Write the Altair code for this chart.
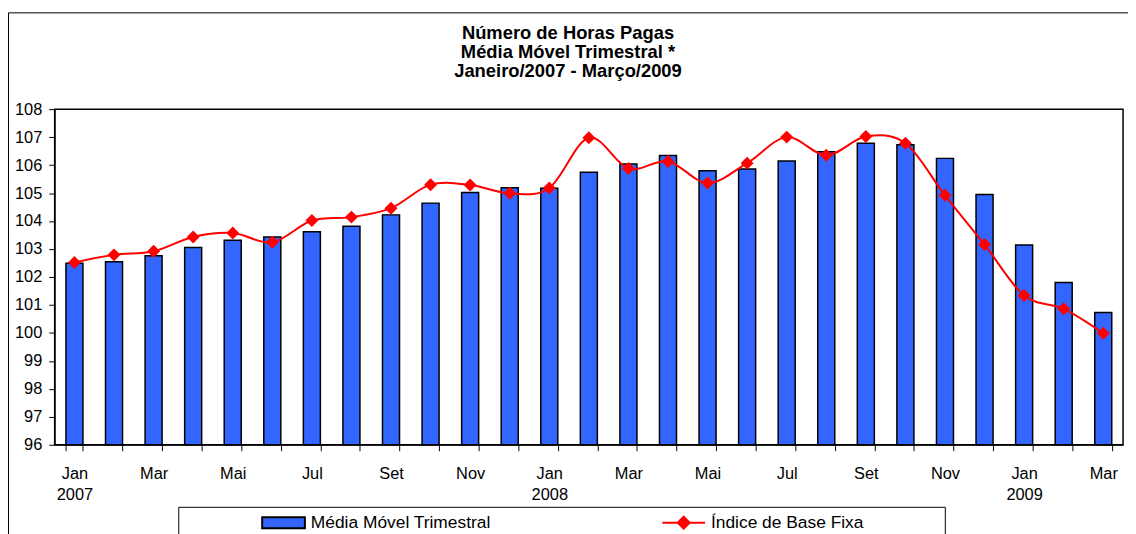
import json
import altair as alt
import pandas as pd

# ---------------- data ----------------
meses = ["Jan", "Fev", "Mar", "Abr", "Mai", "Jun", "Jul", "Ago", "Set", "Out", "Nov", "Dez"]
anos = [2007, 2008, 2009]
periodos = [f"{m}/{a}" for a in (2007, 2008) for m in meses] + ["Jan/2009", "Fev/2009", "Mar/2009"]

media_movel = [102.49, 102.54, 102.76, 103.05, 103.31, 103.43, 103.62, 103.81, 104.22,
               104.64, 105.02, 105.19, 105.17, 105.74, 106.04, 106.34, 105.80, 105.86,
               106.15, 106.48, 106.78, 106.73, 106.24, 104.95, 103.14, 101.80, 100.73]
indice_base_fixa = [102.52, 102.79, 102.92, 103.43, 103.57, 103.24, 104.02, 104.14, 104.46,
                    105.30, 105.29, 104.99, 105.18, 106.98, 105.88, 106.13, 105.36, 106.07,
                    107.00, 106.35, 107.02, 106.78, 104.92, 103.16, 101.34, 100.86, 99.99]

serie_barras = "Média Móvel Trimestral"
serie_linha = "Índice de Base Fixa"
valores_y = list(range(96, 109))

# tick labels: every other month, year under January
rotulos_x = []
for i, p in enumerate(periodos):
    m, a = p.split("/")
    if i % 2 == 1:
        rotulos_x.append("")
    elif m == "Jan":
        rotulos_x.append([m, a])
    else:
        rotulos_x.append(m)

linhas = []
for i, p in enumerate(periodos):
    linhas.append({"idx": i, "periodo": p, "serie": serie_barras, "valor": media_movel[i]})
for i, p in enumerate(periodos):
    linhas.append({"idx": i, "periodo": p, "serie": serie_linha, "valor": indice_base_fixa[i]})
df = pd.DataFrame(linhas)

# ---------------- styling ----------------
FONT = "Liberation Sans"
AZUL = "#3366FF"
VERMELHO = "#FF0000"
W, H = 1076, 338

label_expr = json.dumps(rotulos_x, ensure_ascii=False) + "[datum.value]"

x_enc = alt.X(
    "idx:O",
    scale=alt.Scale(paddingInner=0.57, paddingOuter=0.285),
    axis=alt.Axis(
        title=None, labelExpr=label_expr, labelAngle=0, tickBand="extent",
        tickSize=6, tickColor="black", domainColor="black", labelColor="black",
        labelFont=FONT, labelFontSize=16.5, labelPadding=15, labelLineHeight=21,
        grid=False, labelOverlap=False,
    ),
)
y_scale = alt.Scale(domain=[96, 108], nice=False, zero=False)
y_axis = alt.Axis(
    title=None, values=valores_y, tickSize=6, tickColor="black", domainColor="black",
    labelColor="black", labelFont=FONT, labelFontSize=16.5, labelPadding=7, grid=False,
)
y_enc = alt.Y("valor:Q", scale=y_scale, axis=y_axis)

BAR_PATH = "M-1,-0.256H1V0.256H-1Z"
LINE_PATH = "M-1,0H1M0,-0.28L0.28,0L0,0.28L-0.28,0Z"

leg_comum = dict(
    title=None, orient="none", direction="horizontal", symbolSize=1849, labelOffset=5,
    labelFont=FONT, labelFontSize=17.5, labelColor="black", padding=0, labelLimit=400,
    symbolStrokeWidth=2, symbolOpacity=1,
)

fill_barras = alt.Fill(
    "serie:N",
    scale=alt.Scale(domain=[serie_barras], range=[AZUL]),
    legend=alt.Legend(legendX=208, legendY=394, symbolType=BAR_PATH,
                      symbolStrokeColor="black", **leg_comum),
)
stroke_linha = alt.Stroke(
    "serie:N",
    scale=alt.Scale(domain=[serie_linha], range=[VERMELHO]),
    legend=alt.Legend(legendX=611, legendY=394, symbolType=LINE_PATH,
                      symbolFillColor=VERMELHO, **leg_comum),
)

base = alt.Chart(df)

barras = base.transform_filter(alt.datum.serie == serie_barras).mark_bar(
    stroke="black", strokeWidth=1.5
).encode(x=x_enc, y=y_enc, y2=alt.datum(96), fill=fill_barras)

linha = base.transform_filter(alt.datum.serie == serie_linha).mark_line(
    interpolate="cardinal", strokeWidth=2
).encode(x=x_enc, y=y_enc, stroke=stroke_linha)

pontos = base.transform_filter(alt.datum.serie == serie_linha).mark_point(
    shape="diamond", filled=True, size=170, opacity=1, fill=VERMELHO, strokeWidth=0
).encode(x=x_enc, y=y_enc)

# decorative frames (chart-area border and legend box)
moldura = alt.Chart(alt.Data(values=[{}])).mark_rect(
    fill="transparent", stroke="black", strokeWidth=1
).encode(x=alt.value(-46.5), x2=alt.value(1090), y=alt.value(-97), y2=alt.value(460))

caixa_legenda = alt.Chart(alt.Data(values=[{}])).mark_rect(
    fill="transparent", stroke="black", strokeWidth=1
).encode(x=alt.value(125), x2=alt.value(897), y=alt.value(401), y2=alt.value(460))

chart = alt.layer(moldura, caixa_legenda, barras, linha, pontos).resolve_legend(
    fill="independent", stroke="independent"
).properties(
    width=W, height=H, background="white",
    title=alt.TitleParams(
        text=["Número de Horas Pagas", "Média Móvel Trimestral *", "Janeiro/2007 - Março/2009"],
        font=FONT, fontSize=18.5, fontWeight="bold", color="black", lineHeight=19,
        anchor="middle", dx=-21, offset=-68.5,
    ),
    autosize=alt.AutoSizeParams(type="none"),
    padding={"left": 47, "top": 100, "right": 5, "bottom": 88},
).configure_view(stroke="black", strokeWidth=1.5)

chart.save("out.html", embed_options={"renderer": "svg", "actions": False})
